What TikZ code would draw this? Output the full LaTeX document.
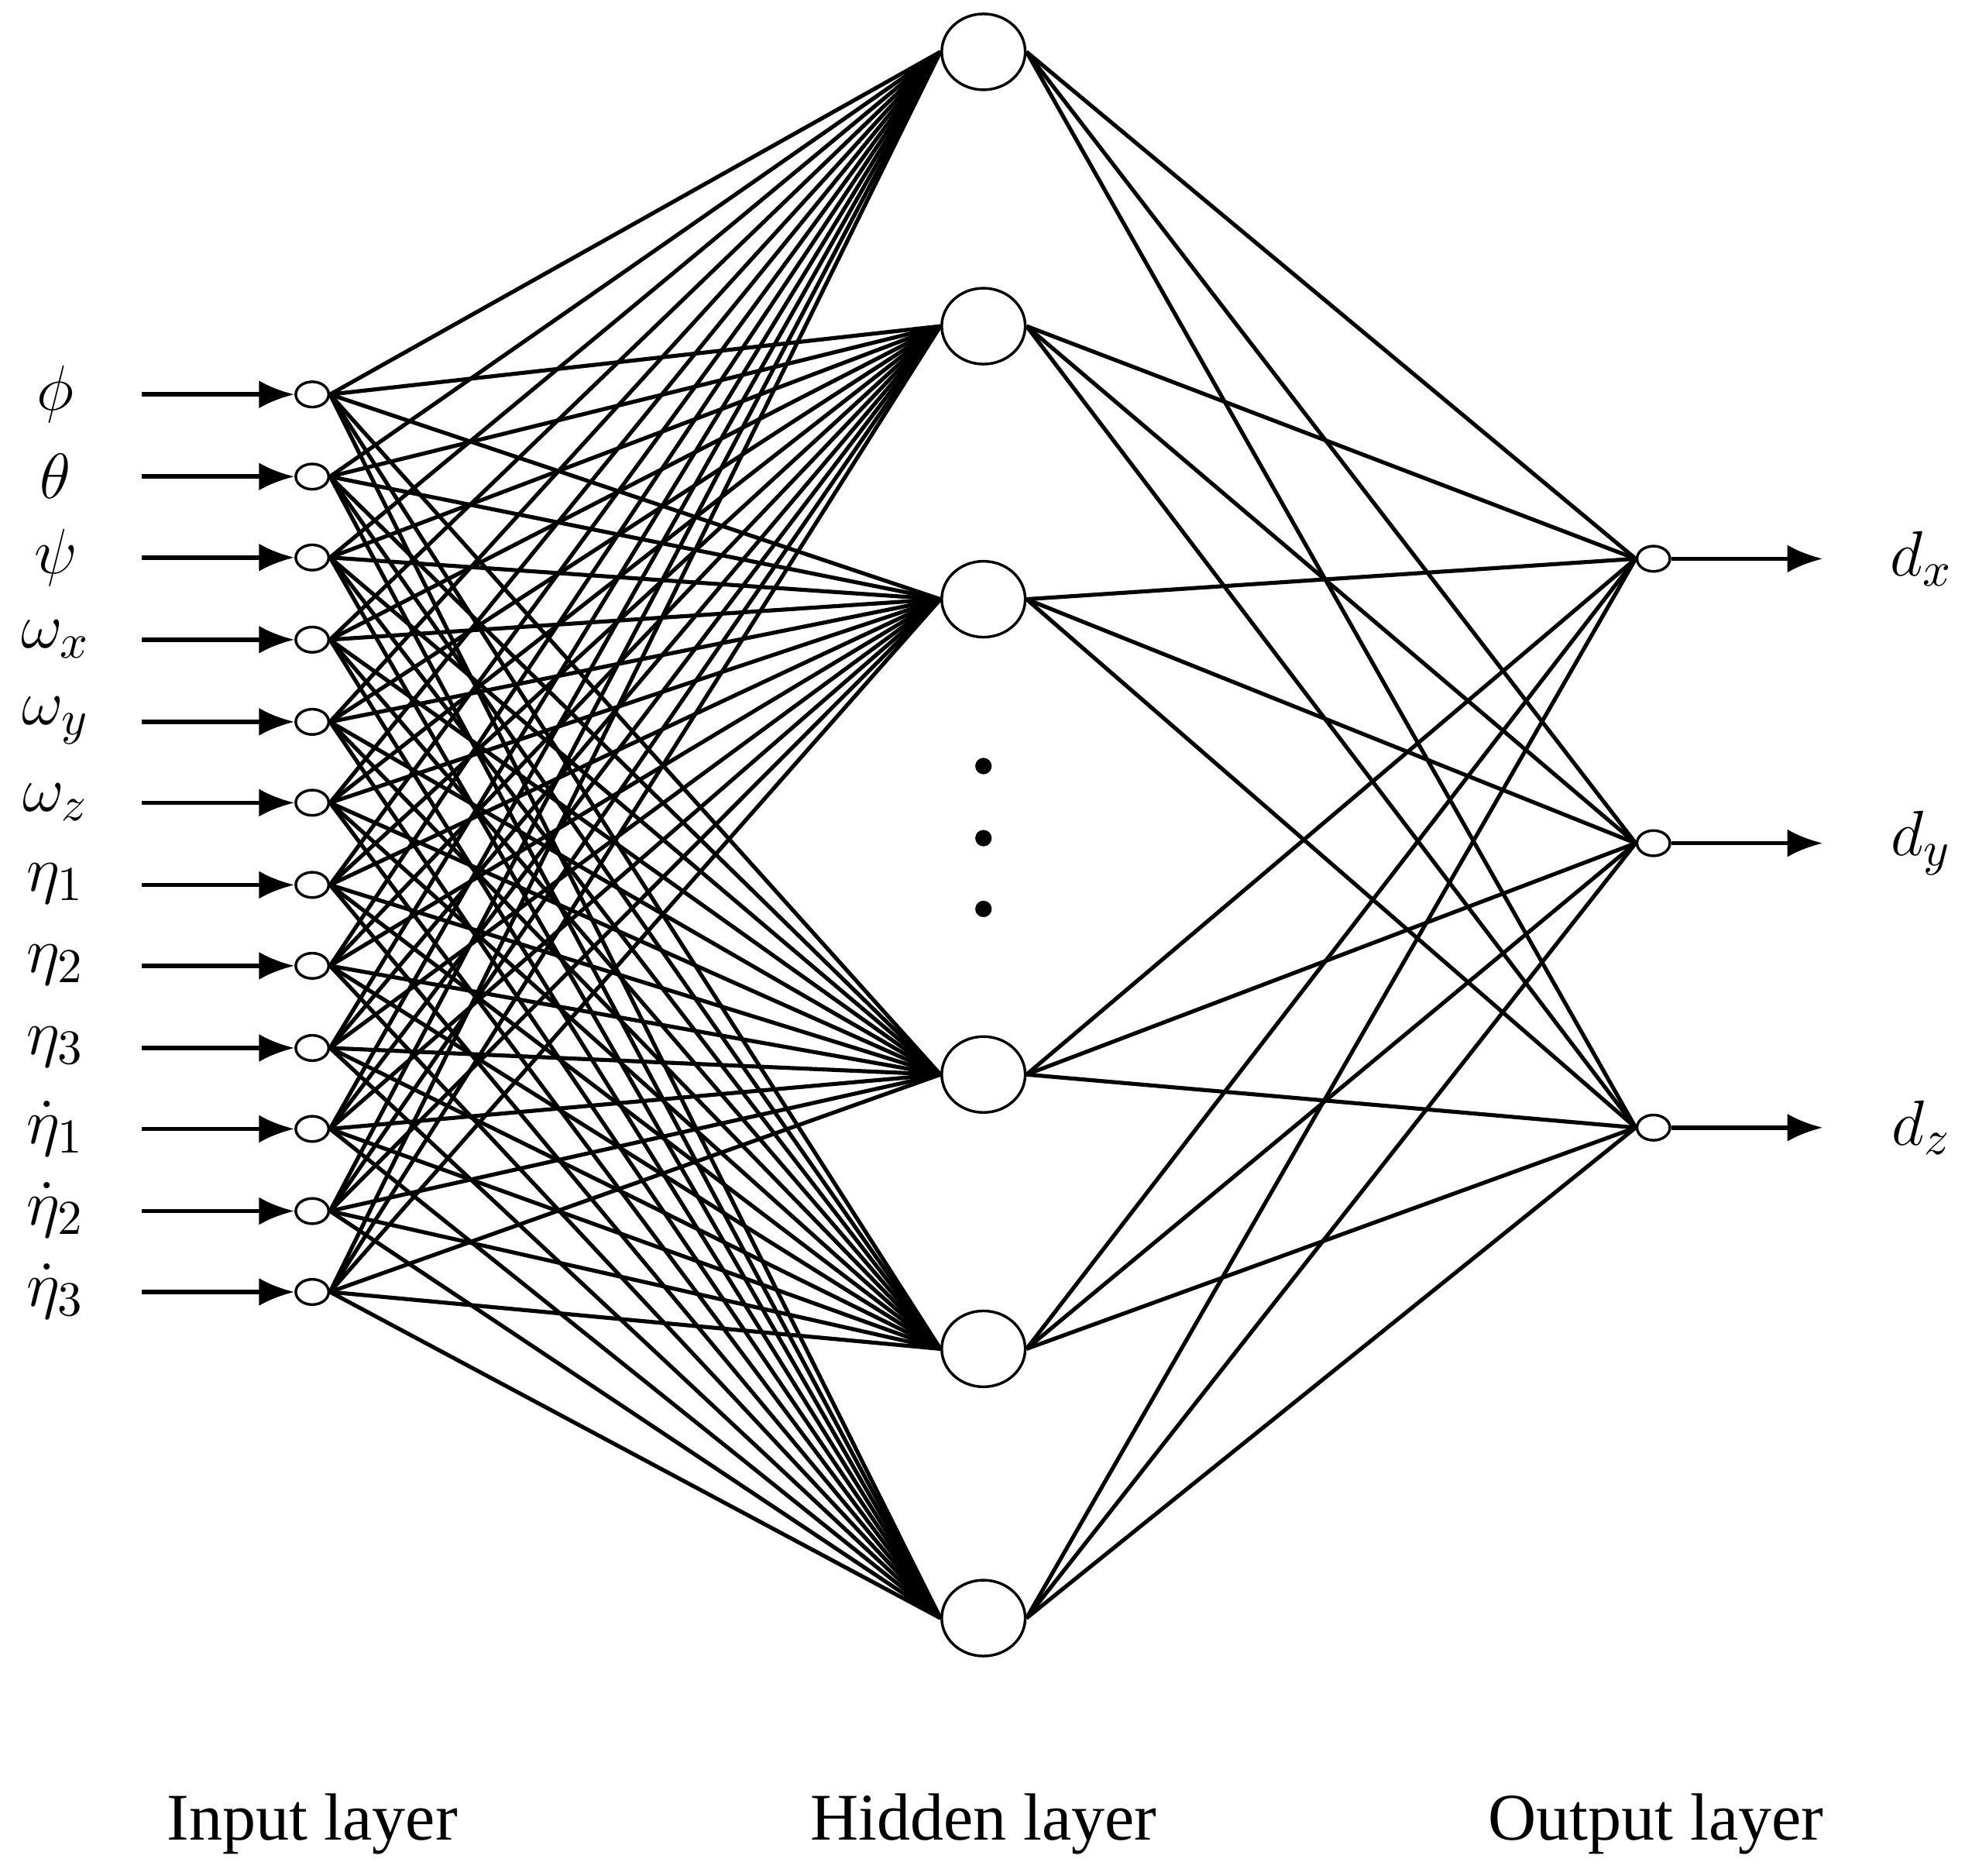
\documentclass[tikz,border=0pt]{standalone}
\usepackage{fontspec}
\setmainfont{Liberation Serif}
\usetikzlibrary{arrows.meta,shapes.geometric}
\begin{document}
\begin{tikzpicture}[x=0.01cm,y=-0.01cm,
  inn/.style={draw,ellipse,inner sep=0,minimum width=0.26cm,minimum height=0.2cm,line width=0.6pt},
  hid/.style={draw,ellipse,inner sep=0,minimum width=0.66cm,minimum height=0.6cm,line width=0.6pt},
  con/.style={line width=0.9pt},
  arr/.style={line width=1pt,-{Latex[length=0.28cm,width=0.22cm]}},
  lab/.style={font=\fontsize{15}{17}\selectfont},
  laycap/.style={font=\fontsize{15}{17}\selectfont}]
\useasboundingbox (0,0) rectangle (1560,1484);
\foreach \i/\y in {1/312,2/377,3/441,4/506,5/571,6/635,7/700,8/764,9/829,10/893,11/958,12/1022}
  {\node[inn] (i\i) at (247,\y) {};
   \coordinate (s\i) at (112,\y);
   \draw[arr] (s\i) -- (i\i.west);}
\foreach \j/\y in {1/41,2/258,3/474,4/850,5/1067,6/1280}
  \node[hid] (h\j) at (778,\y) {};
\foreach \k/\y in {1/442,2/667,3/892}
  {\node[inn] (o\k) at (1308,\y) {};
   \coordinate (e\k) at (1442,\y);
   \draw[arr] (o\k.east) -- (e\k);}
\foreach \i in {1,...,12}\foreach \j in {1,...,6}\draw[con] (i\i.east) -- (h\j.west);
\foreach \j in {1,...,6}\foreach \k in {1,2,3}\draw[con] (h\j.east) -- (o\k.west);
\foreach \y [count=\n] in {606,663,719}\fill (778,\y) circle (0.065cm) node (dot\n) {};
\foreach \i/\t in {1/\phi,2/\theta,3/\psi,4/\omega_x,5/\omega_y,6/\omega_z,7/\eta_1,8/\eta_2,9/\eta_3,10/\dot\eta_1,11/\dot\eta_2,12/\dot\eta_3}
  \node[lab] (l\i) at (44,{312+(\i-1)*64.5}) {$\t$};
\node[lab] (ld1) at (1520,442) {$d_x$};
\node[lab] (ld2) at (1520,667) {$d_y$};
\node[lab] (ld3) at (1520,892) {$d_z$};
\node[laycap] (c1) at (247,1443) {Input layer};
\node[laycap] (c2) at (778,1443) {Hidden layer};
\node[laycap] (c3) at (1310,1443) {Output layer};
\end{tikzpicture}
\end{document}
